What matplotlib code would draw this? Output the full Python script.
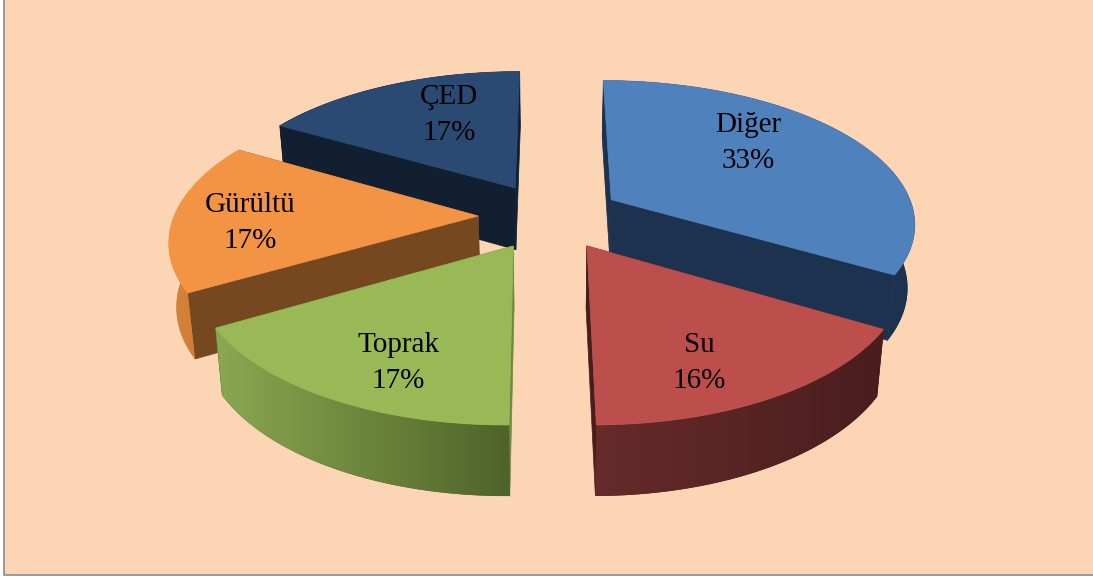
import numpy as np
from matplotlib import pyplot as plt
from matplotlib.patches import Polygon
from matplotlib.colors import LinearSegmentedColormap

labels = ["Diğer", "Su", "Toprak", "Gürültü", "ÇED"]
shown = [33, 16, 17, 17, 17]
# unrounded shares
values = [33.49, 16.4, 16.75, 16.7, 16.66]
top_cols = ["#4f81bd", "#bc4f4c", "#98b956", "#f39444", "#2a4a73"]
rim_cols = [("#1d324e", "#1d324e"), ("#662b2a", "#4a1d1d"), ("#8aa851", "#4f6329"),
            ("#d5833a", "#c9782f"), ("#111f30", "#111f30")]
wall_cols = ["#1d324e", "#4a1d1d", "#6d8a3e", "#76481f", "#111f30"]
label_pos = [(748, 143), (699, 363), (398, 363), (250, 223), (449, 115)]

cx, cy = 550, 216
R = 304
K = 141.8
P = 0.1515
EXPLODE = 0.236
BG = "#fcd5b5"


def proj(u, v, deep=False):
    s = 1 / (1 + P * v)
    x = cx + u * R * s
    y = cy - v * K * s
    if deep:
        x = cx + (x - cx) * 0.98
        y = y + 63 * s ** 0.6
    return np.column_stack([x, y])


def grad_fill(ax, poly, c1, c2, zorder):
    cm = LinearSegmentedColormap.from_list("g", [c1, c2])
    x0, x1 = poly[:, 0].min(), poly[:, 0].max()
    y0, y1 = poly[:, 1].min(), poly[:, 1].max()
    # solid underlay so no hairline shows next to the walls
    ax.add_patch(Polygon(poly, closed=True, fc=c2, ec="none", zorder=zorder))
    im = ax.imshow(np.linspace(0, 1, 256).reshape(1, -1), cmap=cm, aspect="auto",
                   extent=(x0, x1, y1, y0), zorder=zorder, interpolation="bilinear")
    patch = Polygon(poly, closed=True, transform=ax.transData, fc="none", ec="none")
    ax.add_patch(patch)
    im.set_clip_path(patch)


fig = plt.figure(figsize=(10.93, 5.79), dpi=100, facecolor="white")
ax = fig.add_axes([0, 0, 1, 1])
ax.axis("off")
ax.add_patch(plt.Rectangle((4, -2), 1100, 577, fc=BG, ec="#8c8c8c", lw=1.2, zorder=0))

# slices go clockwise from 12 o'clock
edges = np.cumsum([0] + values) / sum(values) * 2 * np.pi
draw_order = [4, 3, 0, 2, 1]
z = 1
for i in draw_order:
    a0, a1 = edges[i], edges[i + 1]
    mid = (a0 + a1) / 2
    ou, ov = EXPLODE * np.sin(mid), EXPLODE * np.cos(mid)
    t = np.linspace(a0, a1, 80)
    u, v = ou + np.sin(t), ov + np.cos(t)

    arc_top = proj(u, v)
    arc_bot = proj(u, v, deep=True)
    apex_top = proj(np.array([ou]), np.array([ov]))
    apex_bot = proj(np.array([ou]), np.array([ov]), deep=True)

    # straight cut walls
    for end_top, end_bot in ((arc_top[0], arc_bot[0]), (arc_top[-1], arc_bot[-1])):
        wall = np.vstack([apex_top, end_top, end_bot, apex_bot])
        ax.add_patch(Polygon(wall, closed=True, fc=wall_cols[i], ec=wall_cols[i], lw=0.5, zorder=z))
    z += 1
    # outer rim
    rim = np.vstack([arc_top, arc_bot[::-1]])
    grad_fill(ax, rim, rim_cols[i][0], rim_cols[i][1], z)
    z += 1
    # top face
    ax.add_patch(Polygon(np.vstack([apex_top, arc_top]), closed=True, fc=top_cols[i],
                         ec=top_cols[i], lw=0.5, zorder=z))
    z += 1

for lab, val, (x, y) in zip(labels, shown, label_pos):
    ax.text(x, y, f"{lab}\n{val}%", ha="center", va="center", fontsize=21,
            family="Liberation Serif", color="black", linespacing=1.5, zorder=100)

ax.set_xlim(0, 1093)
ax.set_ylim(579, 0)
fig.savefig("out.png", dpi=100)
